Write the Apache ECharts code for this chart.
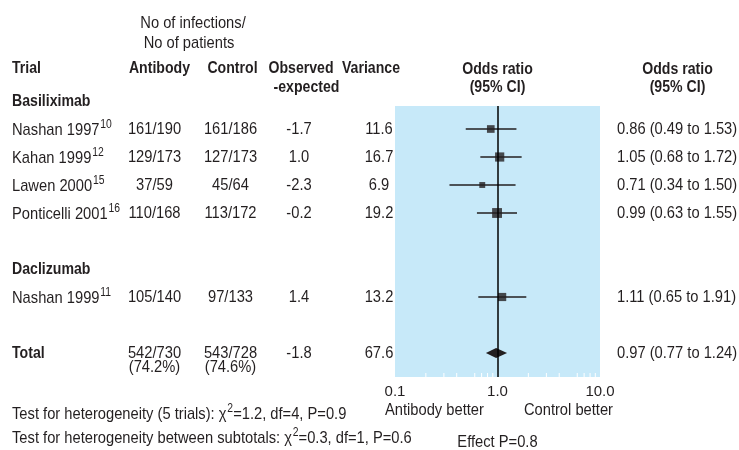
<!DOCTYPE html>
<html><head><meta charset="utf-8">
<script src="https://cdn.jsdelivr.net/npm/echarts@6/dist/echarts.min.js"></script>
<style>html,body{margin:0;padding:0;background:#fff}#c{width:739px;height:450px}</style>
</head><body><div id="c"></div>
<script>
// ---------------- data ----------------
const groups = ['Basiliximab', 'Daclizumab'];
const trials = ['Nashan 1997', 'Kahan 1999', 'Lawen 2000', 'Ponticelli 2001', 'Nashan 1999'];
const refs = ['10', '12', '15', '16', '11'];
const trialGroup = [0, 0, 0, 0, 1];
const abEvents = [161, 129, 37, 110, 105];
const abTotal = [190, 173, 59, 168, 140];
const ctEvents = [161, 127, 45, 113, 97];
const ctTotal = [186, 173, 64, 172, 133];
const obsExp = [-1.7, 1.0, -2.3, -0.2, 1.4];
const variance = [11.6, 16.7, 6.9, 19.2, 13.2];
const oddsRatio = [0.86, 1.05, 0.71, 0.99, 1.11];
const ciLow = [0.49, 0.68, 0.34, 0.63, 0.65];
const ciHigh = [1.53, 1.72, 1.50, 1.55, 1.91];
const totalAb = [542, 730];
const totalCt = [543, 728];
const totalObsExp = -1.8;
const totalVariance = 67.6;
const totalOR = [0.97, 0.77, 1.24];
const axisTicks = [0.1, 1, 10];
const minorTicks = [0.2, 0.3, 0.4, 0.6, 0.7, 0.8, 0.9, 2, 3, 4, 6, 7, 8, 9];
const hetero1 = ['Test for heterogeneity (5 trials): ', '1.2', '4', '0.9'];
const hetero2 = ['Test for heterogeneity between subtotals: ', '0.3', '1', '0.6'];
const effectP = '0.8';

// ---------------- layout ----------------
const FONT = '"Liberation Sans", Arial, sans-serif';
const FS = 17;          // drawn size, squeezed horizontally to look condensed
const SQX = 0.865, SQX_BOLD = 0.83;
const INK = '#231f20';
const ROW0 = 129, STEP = 28;            // pixel y of row 0 and row spacing
const r = y => (y - ROW0) / STEP;        // pixel y -> row units
const PLOT = { left: 395, top: 106, width: 205, height: 271 };
const plotYMin = r(PLOT.top), plotYMax = r(PLOT.top + PLOT.height);
const fullYMin = r(0), fullYMax = r(450);

const trialRows = [];
const groupRows = [];
let totalRow;
{
  let row = -1, g = -1;
  trials.forEach((t, i) => {
    if (trialGroup[i] !== g) {
      if (g !== -1) row += 1;
      g = trialGroup[i];
      groupRows.push(row);
      row += 1;
    }
    trialRows.push(row);
    row += 1;
  });
  totalRow = row + 1;
}

const COL = { trial: 12, ab: 154.5, ct: 230.5, oe: 299, vr: 379, orTxt: 617 };
const texts = [];
function T(x, row, text, align, bold) { texts.push({ x, row, text, align: align || 'center', bold: !!bold }); }
const f1 = v => v.toFixed(1);
const f2 = v => v.toFixed(2);

// header
T(193, r(23), 'No of infections/');
T(189, r(43), 'No of patients');
T(COL.trial, r(68), 'Trial', 'left', true);
T(159.5, r(68), 'Antibody', 'center', true);
T(232.5, r(68), 'Control', 'center', true);
T(301, r(68), 'Observed', 'center', true);
T(306.5, r(87), '-expected', 'center', true);
T(371, r(68), 'Variance', 'center', true);
T(497.5, r(69), 'Odds ratio', 'center', true);
T(497.5, r(87), '(95% CI)', 'center', true);
T(677.5, r(69), 'Odds ratio', 'center', true);
T(677.5, r(87), '(95% CI)', 'center', true);
groups.forEach((g, i) => T(COL.trial, groupRows[i], g, 'left', true));
trials.forEach((t, i) => {
  const row = trialRows[i];
  T(COL.trial, row, '{n|' + t + '}{s|' + refs[i] + '}', 'left');
  T(COL.ab, row, abEvents[i] + '/' + abTotal[i]);
  T(COL.ct, row, ctEvents[i] + '/' + ctTotal[i]);
  T(COL.oe, row, f1(obsExp[i]));
  T(COL.vr, row, f1(variance[i]));
  T(COL.orTxt, row, f2(oddsRatio[i]) + ' (' + f2(ciLow[i]) + ' to ' + f2(ciHigh[i]) + ')', 'left');
});
T(COL.trial, totalRow, 'Total', 'left', true);
T(COL.ab, totalRow, totalAb[0] + '/' + totalAb[1]);
T(COL.ab, totalRow + 0.5, '(' + (100 * totalAb[0] / totalAb[1]).toFixed(1) + '%)');
T(COL.ct, totalRow, totalCt[0] + '/' + totalCt[1]);
T(COL.ct, totalRow + 0.5, '(' + (100 * totalCt[0] / totalCt[1]).toFixed(1) + '%)');
T(COL.oe, totalRow, f1(totalObsExp));
T(COL.vr, totalRow, f1(totalVariance));
T(COL.orTxt, totalRow, f2(totalOR[0]) + ' (' + f2(totalOR[1]) + ' to ' + f2(totalOR[2]) + ')', 'left');
T(COL.trial, r(413), '{n|' + hetero1[0] + 'χ}{s|2}{n|=' + hetero1[1] + ', df=' + hetero1[2] + ', P=' + hetero1[3] + '}', 'left');
T(COL.trial, r(437), '{n|' + hetero2[0] + 'χ}{s|2}{n|=' + hetero2[1] + ', df=' + hetero2[2] + ', P=' + hetero2[3] + '}', 'left');
T(385, r(410), 'Antibody better', 'left');
T(613, r(410), 'Control better', 'right');
T(497.5, r(442), 'Effect P=' + effectP);

const RICH = {
  n: { font: FS + 'px ' + FONT, fontSize: FS, fontFamily: FONT, fill: INK, lineHeight: 20, verticalAlign: 'bottom' },
  s: { font: '12px ' + FONT, fontSize: 12, fontFamily: FONT, fill: INK, lineHeight: 20, verticalAlign: 'top', padding: [0, 0, 0, 1] }
};

const chart = echarts.init(document.getElementById('c'), null, { renderer: 'canvas' });
chart.setOption({
  animation: false,
  backgroundColor: '#fff',
  grid: [
    { left: PLOT.left, top: PLOT.top, width: PLOT.width, height: PLOT.height, show: true, backgroundColor: '#c7e9f9', borderWidth: 0 },
    { left: 0, top: 0, width: 739, height: 450 }
  ],
  xAxis: [
    { gridIndex: 0, type: 'log', logBase: 10, min: axisTicks[0], max: axisTicks[axisTicks.length - 1],
      axisLine: { show: false }, axisTick: { show: false }, splitLine: { show: false }, minorTick: { show: false },
      axisLabel: { formatter: v => Number(v).toFixed(1), fontFamily: FONT, fontSize: 15, color: INK, margin: 7 } },
    { gridIndex: 1, type: 'value', min: 0, max: 739, show: false }
  ],
  yAxis: [
    { gridIndex: 0, type: 'value', inverse: true, min: plotYMin, max: plotYMax, show: false },
    { gridIndex: 1, type: 'value', inverse: true, min: fullYMin, max: fullYMax, show: false }
  ],
  series: [
    { // reference line at OR = 1 and white minor ticks
      type: 'custom', xAxisIndex: 0, yAxisIndex: 0, silent: true, z: 1,
      data: minorTicks.map(v => [v, plotYMax]),
      renderItem: (params, api) => {
        const p = api.coord([api.value(0), api.value(1)]);
        return { type: 'line', shape: { x1: p[0], y1: p[1], x2: p[0], y2: p[1] - 4 }, style: { stroke: '#ffffff', lineWidth: 1 } };
      },
      markLine: { silent: true, symbol: 'none', label: { show: false }, data: [{ xAxis: 1 }],
        lineStyle: { color: '#000', width: 1.5, type: 'solid' } }
    },
    { // confidence intervals
      type: 'custom', xAxisIndex: 0, yAxisIndex: 0, silent: true, z: 3,
      data: trials.map((t, i) => [ciLow[i], ciHigh[i], trialRows[i]]),
      encode: { x: [0, 1], y: 2 },
      renderItem: (params, api) => {
        const a = api.coord([api.value(0), api.value(2)]);
        const b = api.coord([api.value(1), api.value(2)]);
        return { type: 'line', shape: { x1: a[0], y1: a[1], x2: b[0], y2: b[1] }, style: { stroke: INK, lineWidth: 1.5 } };
      }
    },
    { // point estimates, size from variance
      type: 'scatter', xAxisIndex: 0, yAxisIndex: 0, silent: true, z: 4,
      symbol: 'rect',
      data: trials.map((t, i) => [oddsRatio[i], trialRows[i], variance[i]]),
      symbolSize: v => 2.25 * Math.sqrt(v[2]),
      itemStyle: { color: INK }
    },
    { // pooled diamond
      type: 'custom', xAxisIndex: 0, yAxisIndex: 0, silent: true, z: 4,
      data: [[totalOR[0], totalOR[1], totalOR[2], totalRow]],
      encode: { x: [0, 1, 2], y: 3 },
      renderItem: (params, api) => {
        const row = api.value(3);
        const c = api.coord([api.value(0), row]);
        const l = api.coord([api.value(1), row]);
        const h = api.coord([api.value(2), row]);
        return { type: 'polygon', shape: { points: [[l[0], c[1]], [c[0], c[1] - 5], [h[0], c[1]], [c[0], c[1] + 5]] }, style: { fill: INK } };
      }
    },
    { // table text
      type: 'custom', xAxisIndex: 1, yAxisIndex: 1, silent: true, z: 5,
      data: texts.map(t => [t.x, t.row]),
      renderItem: (params, api) => {
        const t = texts[params.dataIndex];
        const p = api.coord([t.x, t.row]);
        const font = (t.bold ? 'bold ' : '') + FS + 'px ' + FONT;
        return { type: 'text', x: p[0], y: p[1], scaleX: t.bold ? SQX_BOLD : SQX, scaleY: 1,
          style: { text: t.text, font: font, fill: INK, align: t.align, verticalAlign: 'middle', rich: RICH } };
      }
    }
  ]
});
</script></body></html>
